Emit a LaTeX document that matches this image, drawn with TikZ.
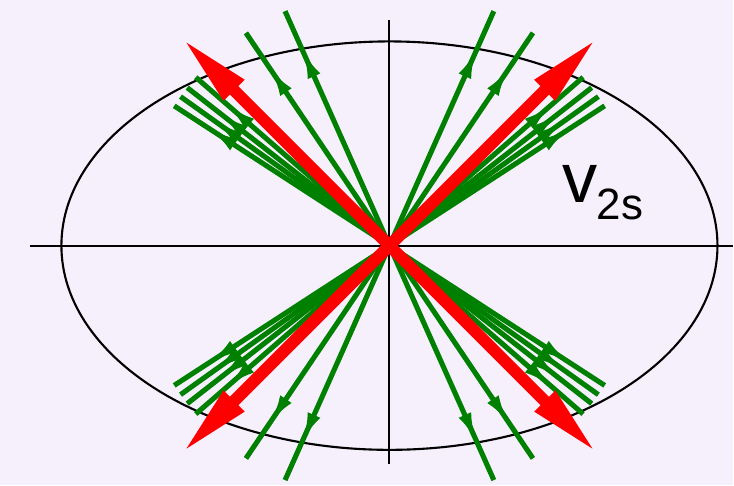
\documentclass[tikz,border=0pt]{standalone}
\usepackage{fontspec}
\setsansfont{Liberation Sans}
\usepackage{tikz}
\usetikzlibrary{arrows.meta,decorations.markings}
\definecolor{slidebg}{HTML}{F5F0FC}
\definecolor{vecgreen}{HTML}{008000}
\definecolor{vecred}{HTML}{FF0000}
\tikzset{
  axisline/.style={black,line width=0.6pt},
  greenvec/.style={vecgreen,line width=1.45pt,postaction={decorate},
    decoration={markings,mark=at position 0.84 with {\arrow{Latex[length=3mm,width=1.35mm]}}}},
  redvec/.style={vecred,line width=3.4pt,-{Triangle[length=7.5mm,width=2.6mm]}}
}

\begin{document}
\begin{tikzpicture}
      \fill[slidebg] (-3.90,-2.40) rectangle (3.44,2.46);
      \draw[axisline] (-3.60,0) -- (3.44,0);
      \draw[axisline] (0,-2.19) -- (0,2.26);
      \draw[axisline] (0,0) ellipse [x radius=3.285,y radius=2.045];
      \coordinate (o) at (0,0);
      % green velocity spread, mirrored into the four quadrants
      \foreach \ang in {33,35.5,38,41,56,66}{
        \foreach \dir in {\ang,180-\ang,180+\ang,-\ang}
          \draw[greenvec] (o) -- ({\dir}:2.57);
      }
      % red mean directions
      \foreach \dir in {45,135,225,315}
        \draw[redvec] (o) -- (\dir:2.95);
      \node[anchor=base west,inner sep=0,font=\sffamily\fontsize{20}{24}\selectfont] (vlabel) at (1.73,0.43) {v};
      \node[anchor=base west,inner sep=0,font=\sffamily\fontsize{12.5}{15}\selectfont] (sublabel) at (2.07,0.26) {2s};
    \end{tikzpicture}
\end{document}
